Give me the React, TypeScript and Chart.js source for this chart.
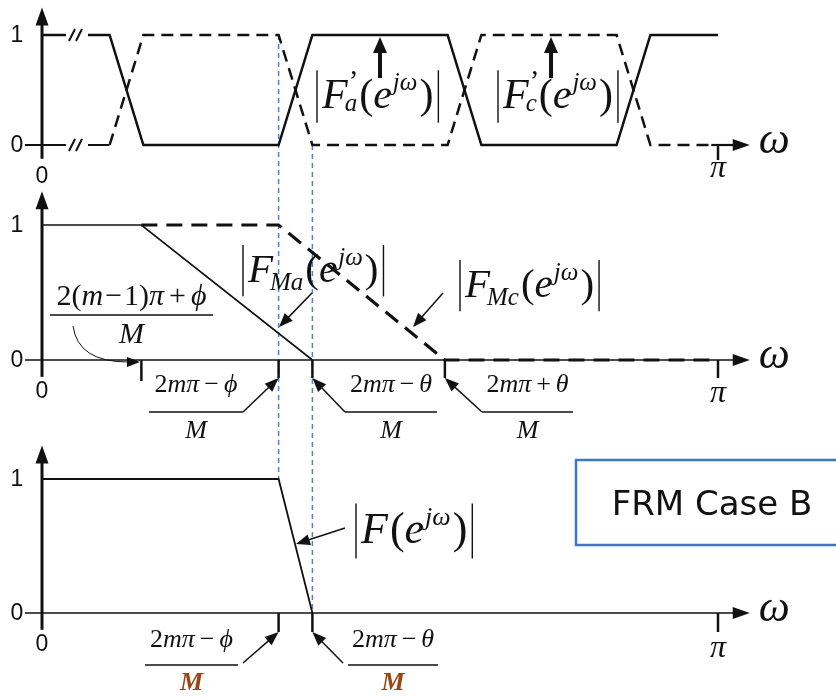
import { useEffect, useRef } from 'react';
import { Chart, registerables } from 'chart.js';

Chart.register(...registerables);

const W = 836;
const H = 698;

// ω is measured in units of π: 0 … 1 covers 0 … π
const faFreq = [0, 0.1, 0.15, 0.35, 0.4, 0.6, 0.65, 0.85, 0.9, 1.0];
const faMag = [1, 1, 0, 0, 1, 1, 0, 0, 1, 1];
const fcFreq = [0.1, 0.15, 0.35, 0.4, 0.6, 0.65, 0.85, 0.9, 0.99];
const fcMag = [0, 1, 1, 0, 0, 1, 1, 0, 0];

const fmaFreq = [0, 0.147, 0.4];
const fmaMag = [1, 1, 0];
const fmcFreq = [0.147, 0.35, 0.596, 0.99];
const fmcMag = [1, 1, 0, 0];

const fFreq = [0, 0.35, 0.4];
const fMag = [1, 1, 0];

// band edges shared by all three panels
const guideFreq = [0.35, 0.4];

const topTicks = [1];
const midTicks = [0.147, 0.35, 0.4, 0.596, 1];
const botTicks = [0.35, 0.4, 1];
const magTicks = [0, 1];

const piLabel = 'π';
const omegaLabel = 'ω';
const caseTitle = 'FRM Case B';
const PHI = 'ϕ';

const INK = '#111';
const GUIDE = '#4d80d6';
const SERIF = '"Liberation Serif", "Times New Roman", serif';
const SANS = '"Liberation Sans", Arial, sans-serif';
const it = (s: number) => `italic ${s}px ${SERIF}`;
const rm = (s: number) => `${s}px ${SERIF}`;

const X_ORIGIN = 42;
const X_UNIT = 676;
const AXIS_END = 1.047;

// pixel anchors of each panel: where 0 sits and how tall one unit is
const panelSpan = (zero: number, unit: number) => ({
  min: -(H - zero) / unit,
  max: zero / unit,
});

const pts = (xs: number[], ys: number[]) => xs.map((x, i) => ({ x, y: ys[i] }));

type Run = { t: string; f: string; dx?: number; dy?: number; keep?: boolean; c?: string };

function runsWidth(ctx: CanvasRenderingContext2D, runs: Run[]) {
  let w = 0;
  for (const r of runs) {
    ctx.font = r.f;
    if (!r.keep) w += (r.dx || 0) + ctx.measureText(r.t).width;
  }
  return w;
}

function drawRuns(ctx: CanvasRenderingContext2D, x: number, y: number, runs: Run[]) {
  let cx = x;
  ctx.textAlign = 'left';
  ctx.textBaseline = 'alphabetic';
  for (const r of runs) {
    ctx.font = r.f;
    ctx.fillStyle = r.c || INK;
    const px = cx + (r.dx || 0);
    ctx.fillText(r.t, px, y + (r.dy || 0));
    if (!r.keep) cx = px + ctx.measureText(r.t).width;
  }
  ctx.fillStyle = INK;
  return cx;
}

function seg(ctx: CanvasRenderingContext2D, x1: number, y1: number, x2: number, y2: number) {
  ctx.beginPath();
  ctx.moveTo(x1, y1);
  ctx.lineTo(x2, y2);
  ctx.stroke();
}

function head(ctx: CanvasRenderingContext2D, tx: number, ty: number, fx: number, fy: number, len: number, half: number) {
  const a = Math.atan2(ty - fy, tx - fx);
  const bx = tx - len * Math.cos(a);
  const by = ty - len * Math.sin(a);
  ctx.fillStyle = INK;
  ctx.beginPath();
  ctx.moveTo(tx, ty);
  ctx.lineTo(bx + half * Math.sin(a), by - half * Math.cos(a));
  ctx.lineTo(bx - half * Math.sin(a), by + half * Math.cos(a));
  ctx.closePath();
  ctx.fill();
}

function arrow(ctx: CanvasRenderingContext2D, path: number[][], width = 1.5, len = 14, half = 5.5) {
  const n = path.length;
  const [tx, ty] = path[n - 1];
  const [fx, fy] = path[n - 2];
  const a = Math.atan2(ty - fy, tx - fx);
  ctx.strokeStyle = INK;
  ctx.lineWidth = width;
  ctx.beginPath();
  ctx.moveTo(path[0][0], path[0][1]);
  for (let i = 1; i < n - 1; i++) ctx.lineTo(path[i][0], path[i][1]);
  ctx.lineTo(tx - (len - 2) * Math.cos(a), ty - (len - 2) * Math.sin(a));
  ctx.stroke();
  head(ctx, tx, ty, fx, fy, len, half);
}

// |F…(e^{jω})| with optional prime and subscript
function magLabel(
  ctx: CanvasRenderingContext2D,
  x: number,
  base: number,
  size: number,
  sub: string,
  prime: boolean,
) {
  const s2 = Math.round(size * 0.6);
  const runs: Run[] = [{ t: 'F', f: it(size) }];
  if (prime) runs.push({ t: '’', f: rm(Math.round(size * 0.7)), dx: 1, dy: -size * 0.42, keep: true });
  if (sub) runs.push({ t: sub, f: it(s2), dx: -3, dy: prime ? size * 0.06 : size * 0.2 });
  runs.push({ t: '(', f: rm(size), dx: 2 });
  runs.push({ t: 'e', f: it(size) });
  runs.push({ t: 'jω', f: it(s2), dx: 1, dy: -size * 0.42 });
  runs.push({ t: ')', f: rm(size), dx: 2 });
  const end = drawRuns(ctx, x + 5, base, runs);
  ctx.strokeStyle = INK;
  ctx.lineWidth = 1.4;
  const top = base - size * 0.9;
  const bot = base + size * 0.35;
  seg(ctx, x, top, x, bot);
  seg(ctx, end + 5, top, end + 5, bot);
}

function numer(sym: string, op: string, s: number): Run[] {
  return [
    { t: '2', f: rm(s) },
    { t: 'm', f: it(s) },
    { t: 'π', f: it(s) },
    { t: op, f: rm(s), dx: 5 },
    { t: sym, f: it(s), dx: 5 },
  ];
}

function fraction(
  ctx: CanvasRenderingContext2D,
  x0: number,
  x1: number,
  barY: number,
  num: Run[],
  numBase: number,
  den: Run[],
  denBase: number,
) {
  const cx = (x0 + x1) / 2;
  drawRuns(ctx, cx - runsWidth(ctx, num) / 2, numBase, num);
  drawRuns(ctx, cx - runsWidth(ctx, den) / 2, denBase, den);
  ctx.strokeStyle = INK;
  ctx.lineWidth = 1.4;
  seg(ctx, x0, barY, x1, barY);
}

const diagram = {
  id: 'frmDiagram',
  beforeDatasetsDraw(chart: any) {
    const ctx: CanvasRenderingContext2D = chart.ctx;
    const xs = chart.scales.x;
    const yT = chart.scales.yTop;
    const yM = chart.scales.yMid;
    const yB = chart.scales.yBot;
    const px = (v: number) => xs.getPixelForValue(v);
    ctx.save();

    // dashed guides through the transition band
    ctx.strokeStyle = GUIDE;
    ctx.lineWidth = 1.5;
    ctx.setLineDash([5, 4]);
    seg(ctx, px(guideFreq[0]), yT.getPixelForValue(1), px(guideFreq[0]), yB.getPixelForValue(1));
    seg(ctx, px(guideFreq[1]), yT.getPixelForValue(0), px(guideFreq[1]), yB.getPixelForValue(0));
    ctx.setLineDash([]);
    ctx.strokeStyle = INK;

    // ω axes
    const tip = px(AXIS_END);
    const y0t = yT.getPixelForValue(0);
    ctx.lineWidth = 2.2;
    seg(ctx, 25, y0t, px(fcFreq[0]), y0t);
    seg(ctx, px(fcFreq[fcFreq.length - 1]), y0t, tip - 12, y0t);
    head(ctx, tip, y0t, 0, y0t, 17, 6);
    for (const ys of [yM, yB]) {
      const y0 = ys.getPixelForValue(0);
      ctx.lineWidth = 1.5;
      seg(ctx, 25, y0, tip - 12, y0);
      head(ctx, tip, y0, 0, y0, 17, 6);
    }
    ctx.restore();
  },
  afterDatasetsDraw(chart: any) {
    const ctx: CanvasRenderingContext2D = chart.ctx;
    const xs = chart.scales.x;
    const yT = chart.scales.yTop;
    const yM = chart.scales.yMid;
    const yB = chart.scales.yBot;
    const px = (v: number) => xs.getPixelForValue(v);
    const ox = px(0);
    const tip = px(AXIS_END);
    ctx.save();
    ctx.strokeStyle = INK;
    ctx.fillStyle = INK;

    // break marks on the top panel
    for (const v of [1, 0]) {
      const y = yT.getPixelForValue(v);
      ctx.fillStyle = '#fff';
      ctx.fillRect(66, y - 3, 22, 6);
      ctx.fillStyle = INK;
      ctx.lineWidth = 2;
      seg(ctx, 69, y + 6, 75, y - 6);
      seg(ctx, 76, y + 6, 82, y - 6);
    }

    // ticks below the ω axes
    const tickSets: [any, number[], number][] = [
      [yT, topTicks, 15],
      [yM, midTicks, 18],
      [yB, botTicks, 19],
    ];
    ctx.lineWidth = 2.5;
    for (const [ys, ticks, len] of tickSets) {
      const y0 = ys.getPixelForValue(0);
      for (const t of ticks) seg(ctx, px(t), y0, px(t), y0 + (t === midTicks[0] && ys === yM ? 21 : len));
    }

    // magnitude axes with arrows and 0 / 1 labels
    for (const ys of [yT, yM, yB]) {
      const yTop = ys.getPixelForValue(1.25);
      const yLow = ys.getPixelForValue(-0.125);
      ctx.lineWidth = 3;
      seg(ctx, ox, yLow, ox, yTop + 14);
      head(ctx, ox, yTop, ox, yLow, 18, 6.5);
      ctx.font = `23px ${SANS}`;
      ctx.textAlign = 'center';
      ctx.textBaseline = 'middle';
      for (const m of magTicks) ctx.fillText(String(m), 17, ys.getPixelForValue(m) + 1);
      ctx.textBaseline = 'top';
      ctx.fillText('0', ox, ys.getPixelForValue(0) + 20);
    }

    // ω and π labels
    const piBase = [32, 42, 44];
    [yT, yM, yB].forEach((ys, i) => {
      const y0 = ys.getPixelForValue(0);
      ctx.fillStyle = INK;
      ctx.textAlign = 'left';
      ctx.textBaseline = 'alphabetic';
      ctx.font = it(44);
      ctx.fillText(omegaLabel, tip + 9, y0 + 8);
      ctx.textAlign = 'center';
      ctx.font = it(32);
      ctx.fillText(piLabel, px(1), y0 + piBase[i]);
    });

    // top panel: |F'a| and |F'c|
    magLabel(ctx, 317, 108, 42, 'a', true);
    magLabel(ctx, 498, 108, 42, 'c', true);
    const y1t = yT.getPixelForValue(1);
    arrow(ctx, [[px(0.5), 78], [px(0.5), y1t + 2]], 4, 16, 7);
    arrow(ctx, [[px(0.753), 78], [px(0.753), y1t + 2]], 4, 16, 7);

    // middle panel
    magLabel(ctx, 243, 282, 41, 'Ma', false);
    magLabel(ctx, 460, 297, 41, 'Mc', false);
    arrow(ctx, [[312, 293], [279, 327]]);
    arrow(ctx, [[443, 293], [413, 327]]);

    const big = 30;
    fraction(
      ctx, 50, 213, 315,
      [
        { t: '2', f: rm(big) },
        { t: '(', f: rm(big) },
        { t: 'm', f: it(big) },
        { t: '−', f: rm(big), dx: 2 },
        { t: '1', f: rm(big), dx: 2 },
        { t: ')', f: rm(big) },
        { t: 'π', f: it(big) },
        { t: '+', f: rm(big), dx: 5 },
        { t: PHI, f: it(big), dx: 5 },
      ],
      305,
      [{ t: 'M', f: it(big) }],
      343,
    );
    // curved pointer to the first band edge
    ctx.strokeStyle = INK;
    ctx.lineWidth = 1;
    ctx.beginPath();
    ctx.moveTo(73, 326);
    ctx.quadraticCurveTo(78, 362, 128, 362);
    ctx.stroke();
    head(ctx, 140, 362, 128, 362, 13, 5);

    const s = 26;
    const yMid0 = yM.getPixelForValue(0);
    const midEnd = yMid0 + 18;
    const mFont: Run[] = [{ t: 'M', f: it(s) }];
    fraction(ctx, 149, 243, 412, numer(PHI, '−', s), 392, mFont, 438);
    arrow(ctx, [[243, 412], [px(midTicks[1]), midEnd]], 1.5);
    fraction(ctx, 345, 437, 412, numer('θ', '−', s), 392, mFont, 438);
    arrow(ctx, [[345, 412], [px(midTicks[2]), midEnd]], 1.5);
    fraction(ctx, 482, 573, 412, numer('θ', '+', s), 392, mFont, 438);
    arrow(ctx, [[482, 412], [px(midTicks[3]), midEnd]], 1.5);

    // bottom panel
    magLabel(ctx, 356, 543, 44, '', false);
    arrow(ctx, [[345, 528], [296, 544]]);
    const yBot0 = yB.getPixelForValue(0);
    const botEnd = yBot0 + 19;
    const boldM: Run[] = [{ t: 'M', f: `italic bold ${s}px ${SERIF}`, c: '#9a4612' }];
    fraction(ctx, 145, 238, 665, numer(PHI, '−', s), 647, boldM, 690);
    arrow(ctx, [[243, 663], [px(botTicks[0]), botEnd]], 1.5);
    fraction(ctx, 348, 438, 665, numer('θ', '−', s), 647, boldM, 690);
    arrow(ctx, [[343, 663], [px(botTicks[1]), botEnd]], 1.5);

    // case caption
    ctx.strokeStyle = '#3b78c9';
    ctx.lineWidth = 2.5;
    ctx.strokeRect(576, 460, 300, 85);
    ctx.fillStyle = INK;
    ctx.font = `34px "DejaVu Sans", Verdana, sans-serif`;
    ctx.textAlign = 'center';
    ctx.textBaseline = 'alphabetic';
    ctx.fillText(caseTitle, 712, 515);
    ctx.restore();
  },
};

export default function App() {
  const ref = useRef<HTMLCanvasElement>(null);

  useEffect(() => {
    const canvas = ref.current;
    if (!canvas) return;
    const line = (data: any[], yAxisID: string, width: number, dash: number[] = []) => ({
      data,
      yAxisID,
      borderColor: INK,
      borderWidth: width,
      borderDash: dash,
      pointRadius: 0,
      tension: 0,
      fill: false,
    });
    const chart = new Chart(canvas, {
      type: 'line',
      data: {
        datasets: [
          line(pts(faFreq, faMag), 'yTop', 2.5),
          line(pts(fcFreq, fcMag), 'yTop', 2.5, [12, 7]),
          line(pts(fmaFreq, fmaMag), 'yMid', 1.6),
          line(pts(fmcFreq, fmcMag), 'yMid', 3.2, [16, 9]),
          line(pts(fFreq, fMag), 'yBot', 1.8),
        ] as any,
      },
      options: {
        animation: false,
        responsive: true,
        maintainAspectRatio: false,
        layout: { padding: 0 },
        plugins: { legend: { display: false }, tooltip: { enabled: false } },
        events: [],
        scales: {
          x: {
            type: 'linear',
            display: false,
            min: -X_ORIGIN / X_UNIT,
            max: (W - X_ORIGIN) / X_UNIT,
          },
          yTop: { type: 'linear', display: false, ...panelSpan(145, 110) },
          yMid: { type: 'linear', display: false, ...panelSpan(360, 135) },
          yBot: { type: 'linear', display: false, ...panelSpan(613, 134) },
        },
      },
      plugins: [diagram],
    });
    return () => chart.destroy();
  }, []);

  return (
    <div style={{ position: 'absolute', left: 0, top: 0, width: W, height: H, background: '#fff' }}>
      <canvas ref={ref} />
    </div>
  );
}
